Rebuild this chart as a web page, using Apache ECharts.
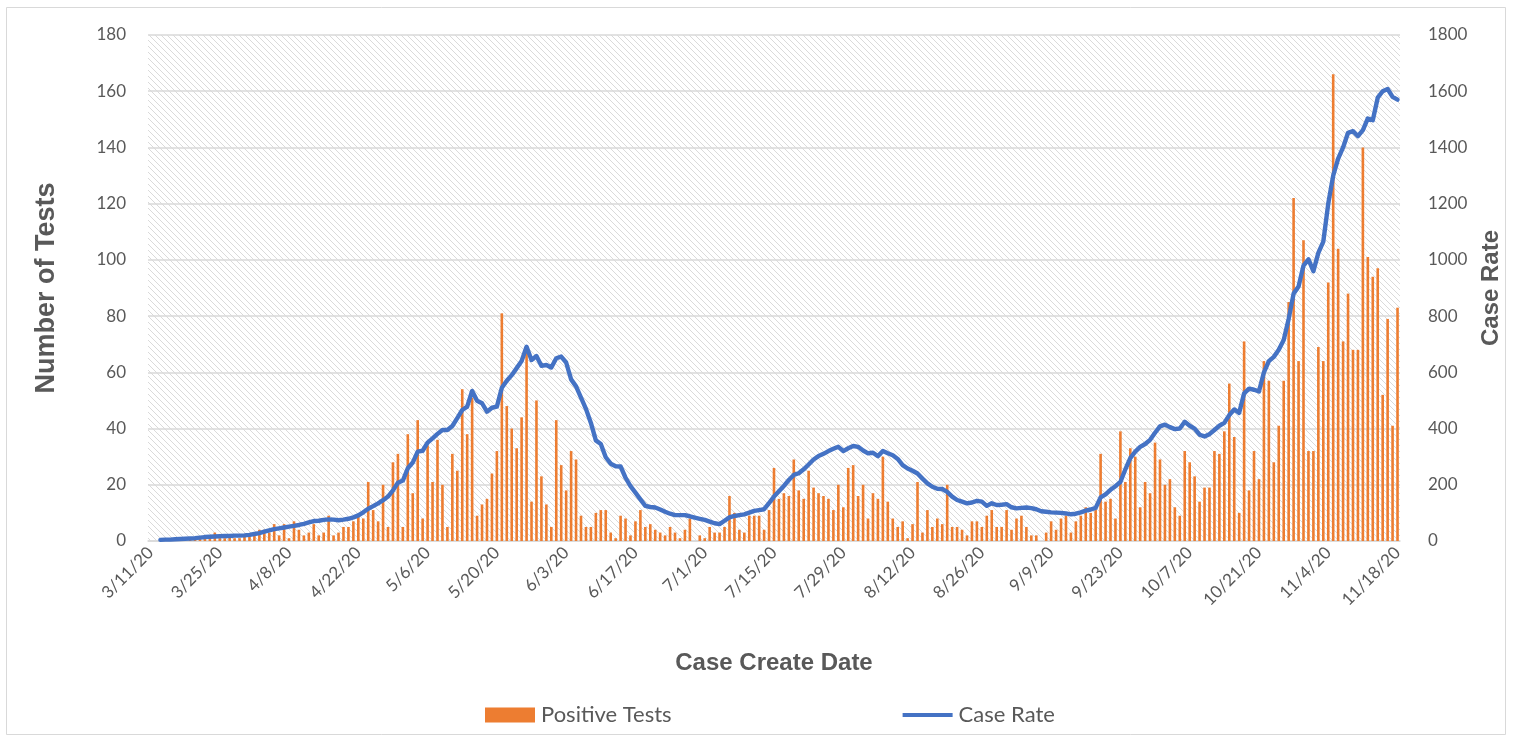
<!DOCTYPE html>
<html><head><meta charset="utf-8">
<script src="https://cdn.jsdelivr.net/npm/echarts@6/dist/echarts.min.js"></script>
<style>html,body{margin:0;padding:0;background:#fff}#c{width:1516px;height:738px}</style>
</head><body><div id="c"></div>
<script>
// ---- data ----
const startDate = '2020-03-11';
const dayCount = 253;
const labelEvery = 14;
const positiveTests = [
0,0,0,1,0,1,1,0,1,1,1,2,1,3,1,1,2,1,1,2,2,3,
4,4,3,6,2,6,1,7,4,2,3,6,2,3,
9,2,3,5,5,7,9,8,21,11,7,20,5,28,31,5,38,17,43,8,34,21,36,20,5,31,25,54,38,51,9,13,15,24,32,
81,48,40,33,44,67,14,50,23,13,5,43,27,18,32,29,9,5,5,10,11,11,3,1,9,8,2,7,
11,5,6,4,3,2,5,3,1,4,8,0,2,1,5,3,3,5,16,10,4,3,9,9,9,4,11,26,15,17,16,29,18,
15,25,19,17,16,15,11,20,12,26,27,16,20,8,17,15,30,14,8,5,7,1,6,21,3,11,5,8,6,20,5,5,
4,2,7,7,5,9,11,5,5,11,4,8,9,5,2,2,0,3,7,4,8,9,3,7,9,12,10,11,31,14,15,8,39,
21,33,30,12,21,17,35,29,20,22,12,9,32,28,23,14,19,19,32,31,39,56,37,10,71,18,32,
22,64,57,28,41,57,85,122,64,107,32,32,69,64,92,166,104,71,88,68,68,140,101,94,97,52,79,41,83
];
const caseRate = [
null,null,4,5,5,6,7,8,9,10,12,14,15,16,17,18,18,19,19,20,22,25,28,33,38,42,45,48,51,54,57,61,66,71,72,75,
77,76,74,76,79,84,91,102,115,124,134,145,158,180,207,215,259,279,318,321,350,365,381,395,395,409,437,466,478,534,499,490,460,474,478,
545,570,590,615,640,691,644,658,623,626,617,650,656,635,575,550,510,470,420,358,345,298,275,266,265,225,195,172,
148,125,121,119,112,104,97,92,92,92,88,83,79,75,69,63,60,72,84,89,92,95,101,107,110,113,135,158,177,196,217,235,241,
255,272,290,302,310,320,328,335,320,330,338,335,322,312,314,302,320,312,305,292,270,258,250,240,222,205,193,186,185,175,158,146,
140,134,137,143,140,125,134,128,129,131,120,116,118,119,117,113,106,104,102,101,100,98,95,97,102,108,112,118,155,166,182,195,210,
255,295,318,335,345,360,385,408,414,405,398,400,424,410,400,378,372,380,395,410,420,448,468,456,525,542,538,
532,600,640,655,680,715,790,880,905,980,1002,960,1025,1065,1200,1300,1360,1400,1452,1458,1440,1462,1503,1497,1577,1600,1608,1580,1570
];
const leftAxis = {min: 0, max: 180, interval: 20};
const rightAxis = {min: 0, max: 1800, interval: 200};
const seriesNames = ['Positive Tests', 'Case Rate'];

// ---- categories (dates) ----
function buildDates() {
  const out = [];
  const p = startDate.split('-').map(Number);
  const d = new Date(p[0], p[1] - 1, p[2]);
  for (let i = 0; i < dayCount; i++) {
    out.push((d.getMonth() + 1) + '/' + d.getDate() + '/' + String(d.getFullYear()).slice(2));
    d.setDate(d.getDate() + 1);
  }
  return out;
}
const categories = buildDates();

function hatch() {
  const s = 6;
  const c = document.createElement('canvas');
  c.width = s; c.height = s;
  const g = c.getContext('2d');
  g.fillStyle = '#ffffff'; g.fillRect(0, 0, s, s);
  g.strokeStyle = '#dadada'; g.lineWidth = 1;
  g.beginPath();
  g.moveTo(-1, -1); g.lineTo(s + 1, s + 1);
  g.moveTo(-1, s - 1); g.lineTo(1, s + 1);
  g.moveTo(s - 1, -1); g.lineTo(s + 1, 1);
  g.stroke();
  return c;
}

const txt = '#595959';
const chart = echarts.init(document.getElementById('c'), null, {renderer: 'canvas'});
chart.setOption({
  animation: false,
  backgroundColor: '#ffffff',
  graphic: [{type: 'rect', shape: {x: 6.5, y: 7.5, width: 1499, height: 727}, style: {fill: 'none', stroke: '#d9d9d9', lineWidth: 1}, silent: true, z: -10}],
  grid: {left: 148, right: 116, top: 35, bottom: 197, show: true, borderWidth: 0,
    backgroundColor: {image: hatch(), repeat: 'repeat'}},
  legend: {
    data: [{name: seriesNames[0], icon: 'rect'}, {name: seriesNames[1], icon: 'path://M0 0H50V4H0Z'}],
    left: 485, top: 704, padding: 0, itemGap: 231, itemWidth: 50, itemHeight: 15,
    textStyle: {color: txt, fontFamily: 'Lato', fontSize: 22, padding: [0, 0, 0, 1]}},
  xAxis: {
    type: 'category', data: categories, boundaryGap: true,
    axisLine: {lineStyle: {color: '#d9d9d9', width: 1.5}},
    axisTick: {interval: labelEvery - 1, alignWithLabel: true, length: 6, lineStyle: {color: '#d9d9d9', width: 1.5}},
    axisLabel: {interval: labelEvery - 1, rotate: 45, margin: 9, color: txt, fontFamily: 'Lato', fontSize: 17},
    name: 'Case Create Date', nameLocation: 'middle', nameGap: 110,
    nameTextStyle: {color: txt, fontFamily: 'Liberation Sans', fontWeight: 'bold', fontSize: 24}
  },
  yAxis: [{
    type: 'value', min: leftAxis.min, max: leftAxis.max, interval: leftAxis.interval,
    axisLine: {show: false}, axisTick: {show: false},
    splitLine: {lineStyle: {color: '#d9d9d9', width: 1.5}},
    axisLabel: {margin: 22, color: txt, fontFamily: 'Lato', fontSize: 17},
    name: 'Number of Tests', nameLocation: 'middle', nameGap: 88,
    nameTextStyle: {color: txt, fontFamily: 'Liberation Sans', fontWeight: 'bold', fontSize: 27}
  }, {
    type: 'value', min: rightAxis.min, max: rightAxis.max, interval: rightAxis.interval, position: 'right',
    axisLine: {show: false}, axisTick: {show: false}, splitLine: {show: false},
    axisLabel: {margin: 28, color: txt, fontFamily: 'Lato', fontSize: 17, formatter: function (v) { return String(v); }},
    name: 'Case Rate', nameLocation: 'middle', nameGap: 79,
    nameTextStyle: {color: txt, fontFamily: 'Liberation Sans', fontWeight: 'bold', fontSize: 24}
  }],
  series: [{
    name: seriesNames[0], type: 'bar', data: positiveTests, barWidth: 2.6,
    itemStyle: {color: '#ED7D31'}, z: 2
  }, {
    name: seriesNames[1], type: 'line', yAxisIndex: 1, data: caseRate, showSymbol: false, symbol: 'none',
    lineStyle: {color: '#4472C4', width: 4.4, join: 'round', cap: 'round'}, itemStyle: {color: '#4472C4'}, z: 3
  }]
});
</script></body></html>
